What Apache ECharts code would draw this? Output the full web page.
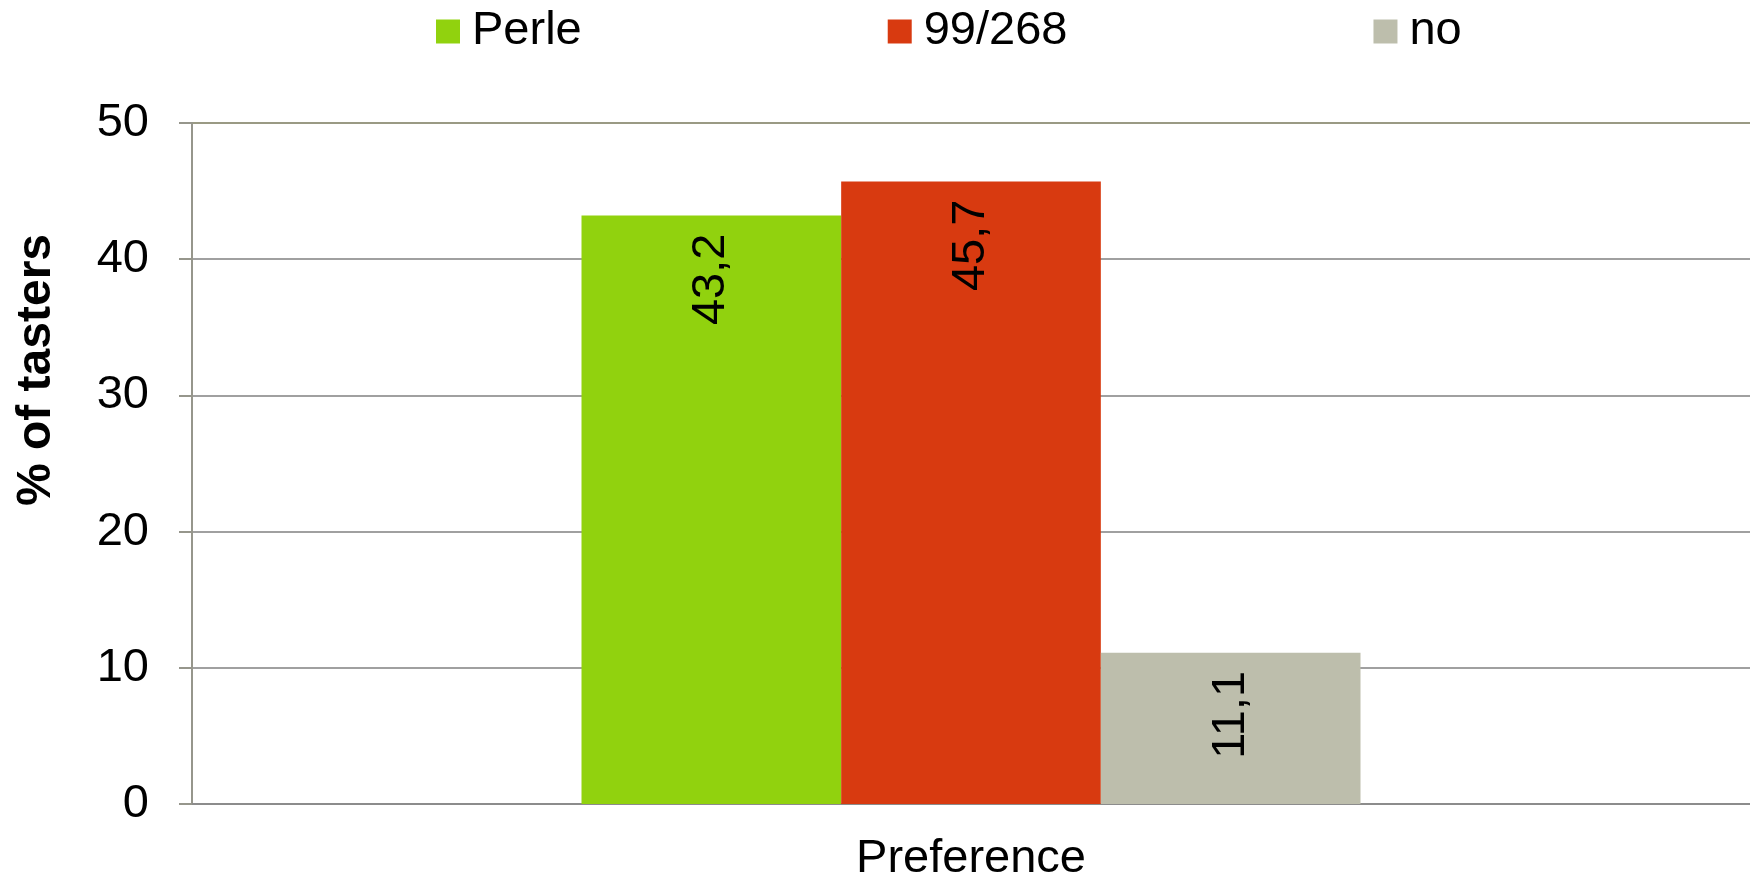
<!DOCTYPE html>
<html>
<head>
<meta charset="utf-8">
<script src="https://cdn.jsdelivr.net/npm/echarts@6/dist/echarts.min.js"></script>
<style>
  html, body { margin: 0; padding: 0; background: #fff; }
  #chart { width: 1750px; height: 883px; }
</style>
</head>
<body>
<div id="chart"></div>
<script>
// Taste preference survey: share of tasters per choice
const categories = ['Preference'];
const seriesNames = ['Perle', '99/268', 'no'];
const perleValues = [43.2];
const line99Values = [45.7];
const noValues = [11.1];
const seriesColors = ['#91D20E', '#D83A10', '#BDBEAC'];
const yAxisTitle = '% of tasters';

const FONT = '"Liberation Sans", Arial, sans-serif';
const decimalComma = v => String(v).replace('.', ',');

function barSeries(name, data, color) {
  return {
    name: name,
    type: 'bar',
    data: data,
    barGap: 0,
    barCategoryGap: '50%',
    itemStyle: { color: color },
    label: {
      show: true,
      position: 'insideTop',
      rotate: 90,
      align: 'right',
      verticalAlign: 'middle',
      distance: 18,
      color: '#000',
      fontFamily: FONT,
      fontSize: 47,
      formatter: p => decimalComma(p.value)
    }
  };
}

const chart = echarts.init(document.getElementById('chart'));
chart.setOption({
  animation: false,
  backgroundColor: '#fff',
  textStyle: { fontFamily: FONT },
  legend: {
    data: seriesNames,
    left: 431,
    top: 3,
    itemGap: 306,
    itemWidth: 24,
    itemHeight: 24,
    icon: 'rect',
    textStyle: { fontSize: 47, color: '#000', fontFamily: FONT, padding: [0, 0, 0, 7] }
  },
  graphic: [{
    type: 'text',
    x: 37,
    y: 370,
    rotation: Math.PI / 2,
    style: {
      text: yAxisTitle,
      fill: '#000',
      font: 'bold 48px ' + FONT,
      align: 'center',
      verticalAlign: 'middle'
    }
  }],
  grid: { left: 192, right: 0, top: 123, bottom: 79 },
  xAxis: {
    type: 'category',
    data: categories,
    axisLine: { show: true, lineStyle: { color: '#8c8c8c', width: 2 } },
    axisTick: { show: false },
    axisLabel: { color: '#000', fontSize: 47, fontFamily: FONT, margin: 32 }
  },
  yAxis: {
    type: 'value',
    min: 0,
    max: 50,
    interval: 10,
    axisLine: { show: true, lineStyle: { color: '#96968c', width: 2 } },
    axisTick: { show: true, length: 13, lineStyle: { color: '#96968c', width: 2 } },
    axisLabel: { color: '#000', fontSize: 47, fontFamily: FONT, margin: 43 },
    splitLine: {
      show: true,
      lineStyle: {
        color: ['#a0a0a0', '#a0a0a0', '#a0a0a0', '#a0a0a0', '#a0a0a0', '#9a9a84'],
        width: 2
      }
    }
  },
  series: [
    barSeries(seriesNames[0], perleValues, seriesColors[0]),
    barSeries(seriesNames[1], line99Values, seriesColors[1]),
    barSeries(seriesNames[2], noValues, seriesColors[2])
  ]
});
</script>
</body>
</html>
